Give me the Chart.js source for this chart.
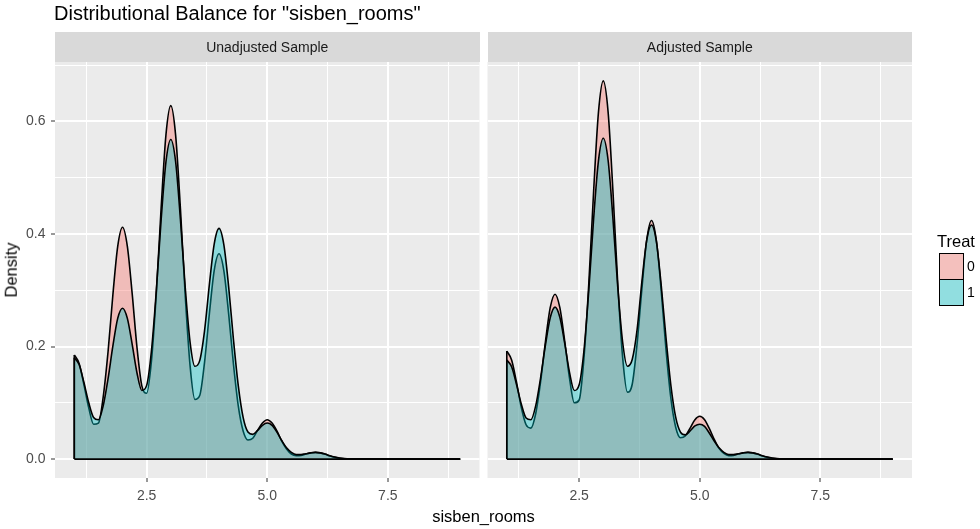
<!DOCTYPE html>
<html>
<head>
<meta charset="utf-8">
<script src="https://cdn.jsdelivr.net/npm/chart.js@4.4.1/dist/chart.umd.min.js"></script>
<style>
html,body{margin:0;padding:0;background:#ffffff;}
#wrap{position:relative;width:980px;height:529px;overflow:hidden;font-family:"Liberation Sans",Arial,sans-serif;background:#fff;}
canvas{position:absolute;left:0;top:0;}
.t{position:absolute;white-space:nowrap;line-height:1;}
.strip{position:absolute;background:#D9D9D9;color:#1A1A1A;font-size:14px;text-align:center;}
.key{position:absolute;box-sizing:border-box;border:1.6px solid #000;}
</style>
</head>
<body>
<div id="wrap">
<canvas id="c1" width="980" height="529" style="width:980px;height:529px"></canvas>
<canvas id="c2" width="980" height="529" style="width:980px;height:529px"></canvas>
<div class="t" id="title" style="left:54px;top:3px;font-size:20px;color:#000;">Distributional Balance for "sisben_rooms"</div>
<div class="strip" id="s1" style="left:55px;top:32px;width:424.5px;height:29.5px;line-height:30px;">Unadjusted Sample</div>
<div class="strip" id="s2" style="left:487.5px;top:32px;width:424.5px;height:29.5px;line-height:30px;">Adjusted Sample</div>
<div class="t" id="ytitle" style="left:11px;top:270px;font-size:16.5px;color:#000;transform:translate(-50%,-50%) rotate(-90deg);">Density</div>
<div class="t" id="xtitle" style="left:483.5px;top:508px;font-size:16.5px;color:#000;transform:translateX(-50%);">sisben_rooms</div>
<div class="t" id="ltitle" style="left:937px;top:233px;font-size:16.5px;color:#000;">Treat</div>
<div class="key" style="left:939px;top:253px;width:25px;height:27.5px;background:rgb(244,192,189);"></div>
<div class="key" style="left:939px;top:278.5px;width:25px;height:27px;background:rgb(145,222,224);"></div>
<div class="t" style="left:967px;top:259px;font-size:14px;color:#000;">0</div>
<div class="t" style="left:967px;top:285px;font-size:14px;color:#000;">1</div>
</div>
<script>
// ---- data ----
const xs = [1.0,1.1,1.2,1.3,1.4,1.5,1.6,1.7,1.8,1.9,
            2.0,2.1,2.2,2.3,2.4,2.5,2.6,2.7,2.8,2.9,
            3.0,3.1,3.2,3.3,3.4,3.5,3.6,3.7,3.8,3.9,
            4.0,4.1,4.2,4.3,4.4,4.5,4.6,4.7,4.8,4.9,
            5.0,5.1,5.2,5.3,5.4,5.5,5.6,5.7,5.8,5.9,
            6.0,6.1,6.2,6.3,6.4,6.5,6.6,6.7,9.0];

const unadjustedTreat0 = [0.185,0.170,0.132,0.091,0.062,0.064,0.111,0.191,0.292,0.378,
                          0.412,0.378,0.294,0.198,0.130,0.117,0.175,0.294,0.446,0.576,
                          0.628,0.576,0.445,0.290,0.166,0.106,0.113,0.172,0.258,0.335,
                          0.365,0.335,0.258,0.168,0.094,0.050,0.034,0.037,0.051,0.064,
                          0.070,0.064,0.050,0.032,0.018,0.009,0.006,0.0065,0.009,0.011,
                          0.012,0.011,0.0085,0.0055,0.003,0.0014,0.0005,0.0002,0];
const unadjustedTreat1 = [0.180,0.168,0.136,0.100,0.074,0.070,0.095,0.143,0.201,0.250,
                          0.268,0.250,0.204,0.153,0.122,0.131,0.193,0.299,0.425,0.528,
                          0.568,0.529,0.426,0.305,0.208,0.165,0.175,0.228,0.310,0.382,
                          0.410,0.381,0.306,0.212,0.130,0.074,0.048,0.044,0.051,0.060,
                          0.064,0.060,0.048,0.033,0.020,0.012,0.008,0.008,0.0095,0.011,
                          0.012,0.011,0.009,0.006,0.0037,0.0019,0.0008,0.0003,0];
const adjustedTreat0 = [0.192,0.176,0.137,0.092,0.061,0.055,0.081,0.137,0.208,0.269,
                        0.293,0.269,0.210,0.144,0.100,0.105,0.180,0.312,0.476,0.616,
                        0.672,0.617,0.477,0.312,0.182,0.119,0.133,0.204,0.302,0.389,
                        0.424,0.389,0.300,0.195,0.109,0.057,0.038,0.041,0.055,0.070,
                        0.076,0.070,0.054,0.035,0.019,0.010,0.006,0.0066,0.009,0.011,
                        0.012,0.011,0.0085,0.0055,0.003,0.0014,0.0005,0.0002,0];
const adjustedTreat1 = [0.176,0.164,0.133,0.098,0.073,0.070,0.095,0.144,0.202,0.251,
                        0.270,0.252,0.206,0.154,0.122,0.132,0.193,0.300,0.427,0.530,
                        0.570,0.531,0.428,0.306,0.209,0.165,0.177,0.229,0.315,0.388,
                        0.416,0.387,0.310,0.216,0.132,0.075,0.048,0.043,0.050,0.059,
                        0.062,0.058,0.046,0.032,0.020,0.012,0.008,0.008,0.0094,0.011,
                        0.012,0.011,0.009,0.006,0.0037,0.0019,0.0008,0.0003,0];

const xMajor = [2.5, 5.0, 7.5];
const xMinor = [1.25, 3.75, 6.25, 8.75];
const xTickLabels = ["2.5", "5.0", "7.5"];
const yMajor = [0, 0.2, 0.4, 0.6];
const yMinor = [0.1, 0.3, 0.5, 0.7];
const yTickLabels = ["0.0", "0.2", "0.4", "0.6"];
const xLimits = [0.6, 9.4];
const yLimits = [-0.0336, 0.7056];

// ---- layout / style ----
const PANEL_TOP = 62, PANEL_BOTTOM = 478;
const PINK = 'rgba(248,118,109,0.4)';
const TEAL = 'rgba(0,191,196,0.4)';

const bgPlugin = {
  id: 'panelBg',
  beforeDraw(chart) {
    const {ctx, chartArea: a} = chart;
    ctx.save();
    ctx.fillStyle = '#EBEBEB';
    ctx.fillRect(a.left, a.top, a.right - a.left, a.bottom - a.top);
    ctx.restore();
  }
};

const near = (arr, v) => arr.findIndex(m => Math.abs(m - v) < 1e-9);

function panel(id, t0, t1, left, right, showY) {
  const pts = arr => xs.map((x, i) => ({x: x, y: arr[i]}));
  const common = {pointRadius: 0, borderColor: '#000000', borderWidth: 1.6, borderJoinStyle: 'round'};
  new Chart(document.getElementById(id), {
    type: 'line',
    data: {
      datasets: [
        Object.assign({data: pts(t0), order: 5, fill: 'origin', backgroundColor: PINK, cubicInterpolationMode: 'monotone'}, common),
        Object.assign({data: [{x: xs[0], y: 0}, {x: xs[0], y: t0[0]}], order: 4, fill: false, tension: 0}, common),
        Object.assign({data: pts(t1), order: 3, fill: 'origin', backgroundColor: TEAL, cubicInterpolationMode: 'monotone'}, common),
        Object.assign({data: [{x: xs[0], y: 0}, {x: xs[0], y: t1[0]}], order: 2, fill: false, tension: 0}, common),
        Object.assign({data: [{x: xs[0], y: 0}, {x: xs[xs.length - 1], y: 0}], order: 1, fill: false, tension: 0}, common)
      ]
    },
    options: {
      responsive: false, animation: false, events: [],
      layout: {padding: {left: showY ? 0 : left, right: 980 - right, top: PANEL_TOP, bottom: 0}},
      plugins: {legend: {display: false}, tooltip: {enabled: false}},
      scales: {
        x: {
          type: 'linear', min: xLimits[0], max: xLimits[1],
          afterBuildTicks: s => { s.ticks = xMajor.concat(xMinor).sort((a, b) => a - b).map(v => ({value: v})); },
          afterFit: s => { s.height = 529 - PANEL_BOTTOM; },
          border: {display: false},
          grid: {
            color: '#FFFFFF',
            lineWidth: c => (c.tick && near(xMajor, c.tick.value) >= 0) ? 2 : 1,
            drawTicks: true, tickLength: 4, tickWidth: 1,
            tickColor: c => (c.tick && near(xMajor, c.tick.value) >= 0) ? '#333333' : 'rgba(0,0,0,0)'
          },
          ticks: {
            autoSkip: false, maxRotation: 0, minRotation: 0, padding: 6,
            color: '#4D4D4D', font: {family: '"Liberation Sans", Arial, sans-serif', size: 14},
            callback: v => { const i = near(xMajor, v); return i >= 0 ? xTickLabels[i] : ''; }
          }
        },
        y: {
          type: 'linear', min: yLimits[0], max: yLimits[1],
          afterBuildTicks: s => { s.ticks = yMajor.concat(yMinor).sort((a, b) => a - b).map(v => ({value: v})); },
          afterFit: s => { s.width = showY ? left : 0; },
          border: {display: false},
          grid: {
            color: '#FFFFFF',
            lineWidth: c => (c.tick && near(yMajor, c.tick.value) >= 0) ? 2 : 1,
            drawTicks: showY, tickLength: 4, tickWidth: 1,
            tickColor: c => (c.tick && near(yMajor, c.tick.value) >= 0) ? '#333333' : 'rgba(0,0,0,0)'
          },
          ticks: {
            display: showY, autoSkip: false, padding: 5.5,
            color: '#4D4D4D', font: {family: '"Liberation Sans", Arial, sans-serif', size: 14},
            callback: v => { const i = near(yMajor, v); return i >= 0 ? yTickLabels[i] : ''; }
          }
        }
      }
    },
    plugins: [bgPlugin]
  });
}

panel('c1', unadjustedTreat0, unadjustedTreat1, 55, 479.5, true);
panel('c2', adjustedTreat0, adjustedTreat1, 487.5, 912, false);
</script>
</body>
</html>
